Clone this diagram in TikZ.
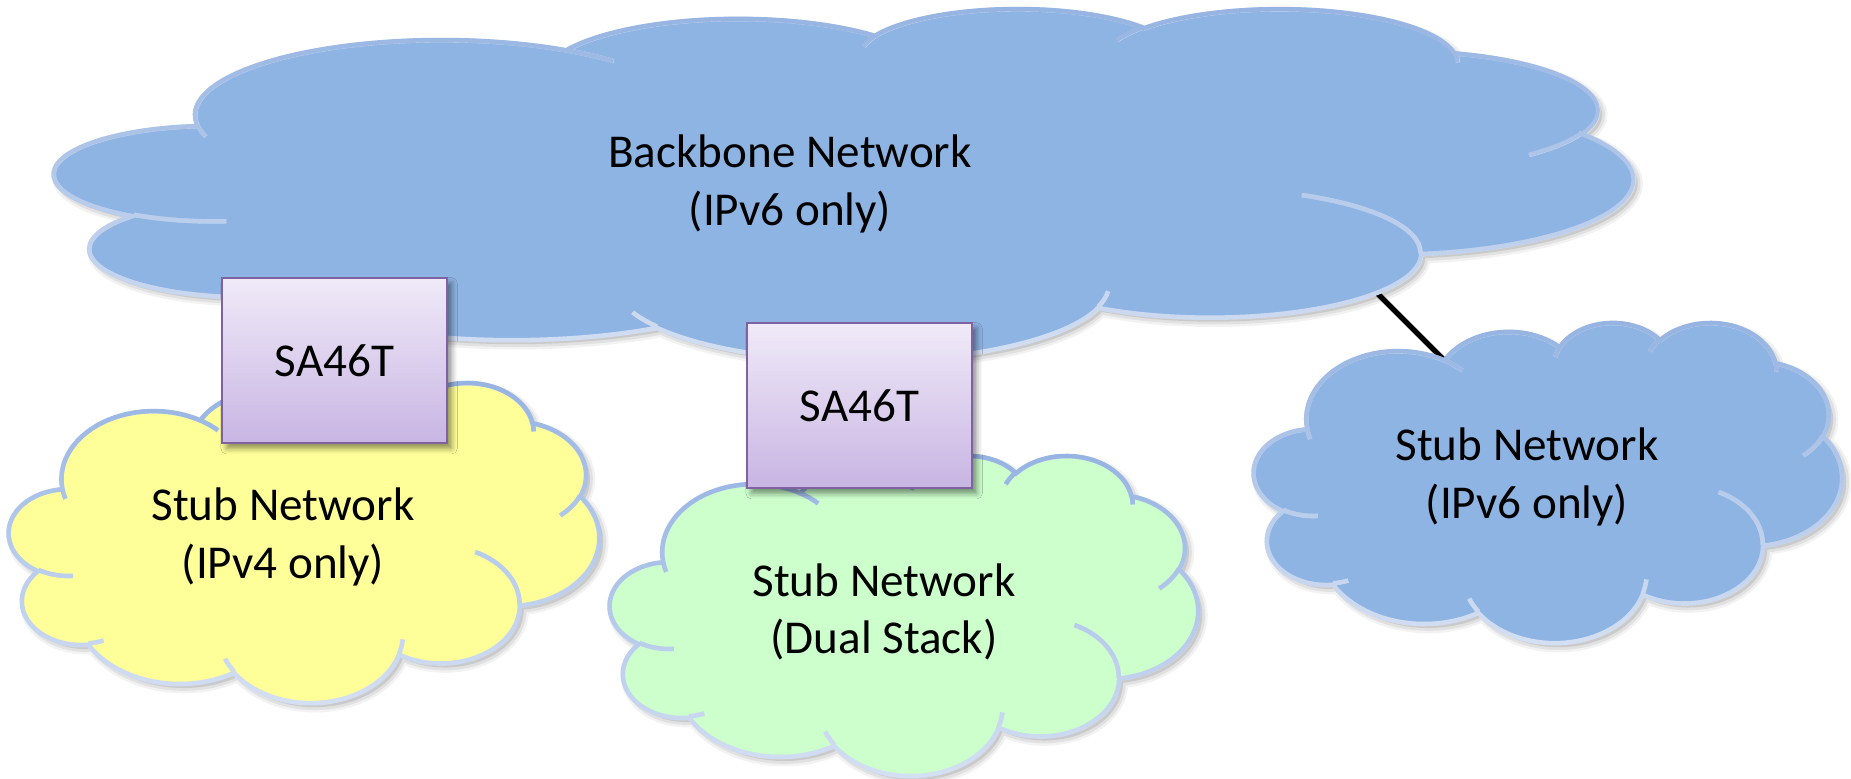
\documentclass[tikz,border=0pt]{standalone}
\usepackage{fontspec}
\setmainfont{Carlito}
\usetikzlibrary{fadings,shadows.blur}

\definecolor{skyfill}{HTML}{8EB4E3}
\definecolor{lemonfill}{HTML}{FFFF99}
\definecolor{mintfill}{HTML}{CCFFCC}
\definecolor{rimlow}{HTML}{D6E1F3}
\definecolor{rimhigh}{HTML}{95B3E2}
\definecolor{boxtop}{HTML}{F0EAF8}
\definecolor{boxbot}{HTML}{C8B5E3}
\definecolor{boxrim}{HTML}{7F62A2}

% elliptic arc whose start and sweep are given as polar (visual) angles
\newcommand\carc[4]{arc[x radius=#1, y radius=#2,
  start angle={atan2(#1*sin(#3),#2*cos(#3))},
  delta angle={mod(atan2(#1*sin(#3+#4),#2*cos(#3+#4))-atan2(#1*sin(#3),#2*cos(#3))+720,360)}]}

% cloud outline in a 43.2 x 43.2 box, y pointing down
\newcommand\cloudrim{(3.900,14.370)
  \carc{6.753}{9.190}{-190.4875}{123.7805}
  \carc{5.333}{7.267}{-144.1024}{89.9452}
  \carc{4.365}{5.945}{-145.8079}{99.7230}
  \carc{4.857}{6.595}{-130.9861}{117.2417}
  \carc{5.333}{7.273}{-78.7089}{109.0269}
  \carc{6.775}{9.220}{-46.2673}{130.2690}
  \carc{5.785}{7.867}{0.6250}{114.0333}
  \carc{6.752}{9.215}{22.4516}{115.1726}
  \carc{7.720}{10.543}{66.2426}{75.7110}
  \carc{4.360}{5.918}{-274.9421}{146.7356}
  \carc{4.345}{5.945}{-246.8285}{152.5189} -- cycle}

% the small inner creases between the puffs
\newcommand\cloudcreases{
  (4.693,26.177) \carc{4.345}{5.945}{86.7420}{26.4295}
  (6.928,34.899) \carc{4.360}{5.918}{73.6105}{11.4475}
  (16.478,39.090) \carc{6.752}{9.215}{137.6242}{14.0811}
  (28.827,34.751) \carc{6.752}{9.215}{6.4533}{15.9984}
  (34.129,22.954) \carc{5.785}{7.867}{-70.2924}{70.9174}
  (41.798,15.354) \carc{5.333}{7.273}{30.3180}{27.7515}
  (38.324,5.426) \carc{4.857}{6.595}{-13.7443}{14.8589}
  (29.078,3.952) \carc{4.857}{6.595}{-149.1815}{18.1954}
  (22.141,4.720) \carc{4.365}{5.945}{-163.4943}{17.6864}
  (14.000,5.192) \carc{6.753}{9.190}{-66.7070}{12.3194}
  (4.127,15.789) \carc{6.753}{9.190}{157.6544}{11.8582}}

% #1,#2 top-left corner, #3 width, #4 height, #5 fill colour
\newcommand\drawcloud[5]{%
  \begin{scope}[shift={(#1+4,#2+4)}, xscale=#3/43.2, yscale=#4/43.2]
    \fill[black,opacity=.10] \cloudrim;
    \draw[black,opacity=.05,line width=3pt] \cloudrim;
    \draw[black,opacity=.07,line width=1.6pt] \cloudrim;
  \end{scope}
  \begin{scope}[shift={(#1,#2)}, xscale=#3/43.2, yscale=#4/43.2]
    \fill[#5] \cloudrim;
    \draw[rimlow,line width=1.3pt] \cloudrim \cloudcreases;
    \draw[rimhigh,line width=1.3pt,path fading=south] \cloudrim \cloudcreases;
  \end{scope}}

\tikzset{
  lbl/.style={align=center, inner sep=0pt, font=\fontsize{13.4}{16.3}\selectfont},
  sabox/.style={rectangle, draw=boxrim, line width=0.7pt,
    top color=boxtop, bottom color=boxbot,
    minimum width=2.25cm, minimum height=1.65cm, inner sep=0pt,
    font=\fontsize{13.4}{16.3}\selectfont,
    blur shadow={shadow xshift=1.3pt, shadow yshift=-1.5pt,
      shadow blur radius=1.6pt, shadow opacity=45}},
  link/.style={black, line width=1.5pt}
}

\begin{document}
\begin{tikzpicture}[x=0.01cm, y=-0.01cm]
  \useasboundingbox (0,0) rectangle (1851,778);

  % link between the backbone and the IPv6 stub (runs under both clouds)
  \coordinate (lnA) at (1340,256);
  \coordinate (lnB) at (1480,396);
  \draw[black, opacity=.25, line width=1.8pt] ([shift={(3,3)}]lnA) -- ([shift={(3,3)}]lnB);
  \draw[link] (lnA) -- (lnB);

  % clouds
  \drawcloud{55}{8}{1578}{352}{skyfill}
  \drawcloud{9}{382}{590}{320}{lemonfill}
  \drawcloud{610}{455}{588}{320}{mintfill}
  \drawcloud{1254}{322}{588}{320}{skyfill}

  % cloud labels
  \node[lbl] (bbtext) at (790,184) {Backbone Network\\(IPv6 only)};
  \node[lbl] (v4text) at (283,537) {Stub Network\\(IPv4 only)};
  \node[lbl] (dstext) at (884,612) {Stub Network\\(Dual Stack)};
  \node[lbl] (v6text) at (1527,477) {Stub Network\\(IPv6 only)};

  % translators
  \node[sabox] (sa1) at (334.5,360.5) {SA46T};
  \node[sabox] (sa2) at (859.5,405.5) {SA46T};
\end{tikzpicture}
\end{document}
